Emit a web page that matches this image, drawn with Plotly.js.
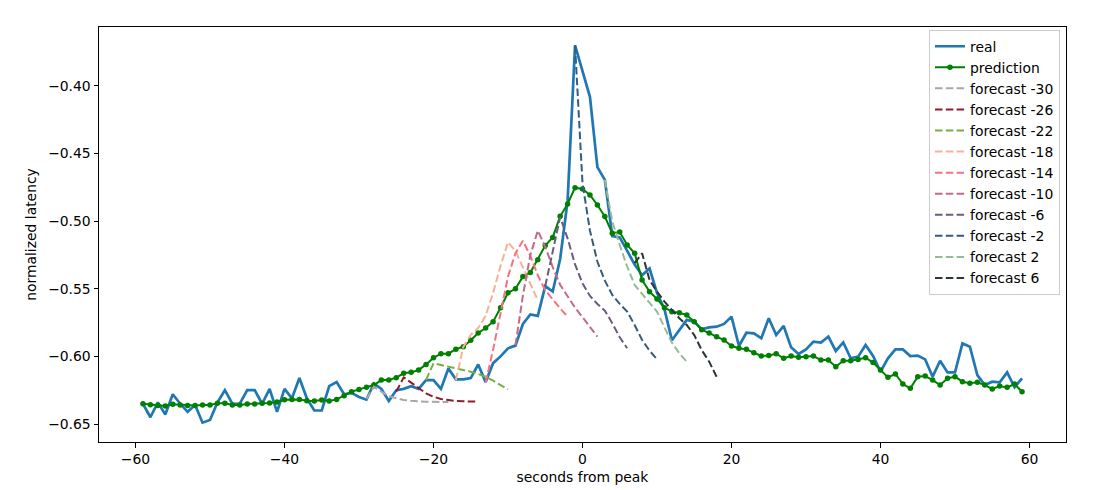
<!DOCTYPE html>
<html>
<head>
<meta charset="utf-8">
<script src="https://cdn.plot.ly/plotly-3.0.1.min.js"></script>
<style>
  html, body { margin: 0; padding: 0; background: #ffffff; }
  #chart { width: 1096px; height: 490px; }
</style>
</head>
<body>
<div id="chart"></div>
<script>
// seconds from peak: first sample of real / prediction series
const firstSecond = -59;

// real normalized latency, seconds -59 .. 59
const realValues = [
  -0.635, -0.645, -0.634, -0.643, -0.628, -0.635, -0.641, -0.636, -0.649, -0.647,
  -0.634, -0.625, -0.635, -0.635, -0.625, -0.625, -0.635, -0.624, -0.641, -0.624,
  -0.631, -0.616, -0.631, -0.640, -0.640, -0.622, -0.619, -0.628, -0.627, -0.630,
  -0.632, -0.620, -0.624, -0.633, -0.625, -0.624, -0.622, -0.624, -0.6175, -0.6175,
  -0.624, -0.609, -0.617, -0.617, -0.616, -0.606, -0.619, -0.605, -0.600, -0.594,
  -0.592, -0.576, -0.569, -0.570, -0.548, -0.552, -0.528, -0.485, -0.370, -0.389,
  -0.408, -0.460, -0.4695, -0.511, -0.512, -0.522, -0.532, -0.540, -0.535, -0.553,
  -0.565, -0.588, -0.5805, -0.573, -0.5743, -0.580, -0.5785, -0.578, -0.576, -0.5706,
  -0.5923, -0.5825, -0.583, -0.5866, -0.5718, -0.5842, -0.5775, -0.5933, -0.5982, -0.5948,
  -0.5891, -0.5898, -0.5854, -0.596, -0.5896, -0.6014, -0.6002, -0.5916, -0.5997, -0.6113,
  -0.6014, -0.5948, -0.5948, -0.5997, -0.5994, -0.6022, -0.615, -0.6032, -0.6118, -0.6118,
  -0.5904, -0.5928, -0.6138, -0.6212, -0.6187, -0.6192, -0.6118, -0.6229, -0.6162
];

// model prediction, seconds -59 .. 59
const predictionValues = [
  -0.635, -0.6357, -0.6364, -0.6367, -0.6354, -0.6359, -0.6364, -0.6364, -0.6359, -0.6359,
  -0.6347, -0.6347, -0.636, -0.6359, -0.6352, -0.6352, -0.6347, -0.6345, -0.6337, -0.632,
  -0.6318, -0.6318, -0.6328, -0.633, -0.6322, -0.633, -0.6318, -0.6291, -0.6261, -0.6244,
  -0.6229, -0.6212, -0.6175, -0.6175, -0.6157, -0.6125, -0.6118, -0.6101, -0.6059, -0.601,
  -0.598, -0.598, -0.5947, -0.5928, -0.588, -0.5827, -0.579, -0.5743, -0.564, -0.553,
  -0.550, -0.541, -0.538, -0.5285, -0.518, -0.512, -0.4964, -0.4873, -0.4752, -0.4762,
  -0.4806, -0.488, -0.4966, -0.509, -0.508, -0.5176, -0.5237, -0.5435, -0.5521, -0.5575,
  -0.564, -0.5669, -0.5677, -0.5694, -0.5743, -0.5803, -0.5827, -0.5854, -0.5879, -0.5923,
  -0.594, -0.5948, -0.5973, -0.5997, -0.5993, -0.598, -0.6014, -0.5997, -0.6007, -0.6002,
  -0.5997, -0.6027, -0.6027, -0.6076, -0.6032, -0.6032, -0.6022, -0.601, -0.6046, -0.610,
  -0.6155, -0.613, -0.6204, -0.6236, -0.615, -0.6145, -0.6175, -0.6212, -0.6162, -0.615,
  -0.6187, -0.6199, -0.6192, -0.6212, -0.6241, -0.6219, -0.6229, -0.6204, -0.6261
];

// forecast issue times (seconds from peak); each forecast covers the 12 following seconds
const forecastTimes = [-30, -26, -22, -18, -14, -10, -6, -2, 2, 6];
const forecastColors = ['#A8A7A7', '#8C1C2E', '#76B041', '#F8B195', '#F67280',
                        '#C06C84', '#6C5B7B', '#355C7D', '#99B898', '#2A363B'];

const forecastM30 = [-0.6315, -0.6224, -0.626, -0.6293, -0.631, -0.6322, -0.6328, -0.6333, -0.6335, -0.6336, -0.6337, -0.6337];
const forecastM26 = [-0.626, -0.6155, -0.6194, -0.6236, -0.6273, -0.6298, -0.6315, -0.6322, -0.633, -0.6332, -0.6335, -0.6335];
const forecastM22 = [-0.6175, -0.6051, -0.6064, -0.6076, -0.6088, -0.6101, -0.6113, -0.613, -0.615, -0.618, -0.6212, -0.6244];
const forecastM18 = [-0.6175, -0.593, -0.584, -0.579, -0.570, -0.553, -0.533, -0.5155, -0.522, -0.534, -0.546, -0.5585];
const forecastM14 = [-0.6194, -0.595, -0.568, -0.541, -0.5237, -0.5144, -0.5257, -0.540, -0.551, -0.558, -0.5645, -0.5706];
const forecastM10 = [-0.5916, -0.555, -0.525, -0.507, -0.519, -0.534, -0.547, -0.556, -0.564, -0.571, -0.578, -0.5854];
const forecastM6  = [-0.548, -0.522, -0.497, -0.5127, -0.532, -0.546, -0.5553, -0.5612, -0.5662, -0.5755, -0.5859, -0.594];
const forecastM2  = [-0.370, -0.472, -0.507, -0.530, -0.544, -0.5546, -0.5612, -0.5669, -0.5768, -0.5879, -0.5958, -0.6022];
const forecastP2  = [-0.4695, -0.5003, -0.5176, -0.5336, -0.5472, -0.5538, -0.5607, -0.5669, -0.5785, -0.5898, -0.5978, -0.6039];
const forecastP6  = [-0.531, -0.5237, -0.5435, -0.5521, -0.5595, -0.5657, -0.5718, -0.5768, -0.5842, -0.5953, -0.6039, -0.615];
const forecastValues = [forecastM30, forecastM26, forecastM22, forecastM18, forecastM14,
                        forecastM10, forecastM6, forecastM2, forecastP2, forecastP6];

const xTicks = [-60, -40, -20, 0, 20, 40, 60];
const yTicks = [-0.65, -0.60, -0.55, -0.50, -0.45, -0.40];

const seconds = realValues.map((_, i) => firstSecond + i);

const traces = [];
traces.push({
  x: seconds, y: realValues, name: 'real', type: 'scatter', mode: 'lines',
  line: { color: '#1f77b4', width: 2.7 }
});
traces.push({
  x: seconds, y: predictionValues, name: 'prediction', type: 'scatter', mode: 'lines+markers',
  line: { color: '#008000', width: 2 },
  marker: { color: '#008000', size: 5.5 }
});
forecastTimes.forEach((t, k) => {
  const vals = forecastValues[k];
  traces.push({
    x: vals.map((_, i) => t + 1 + i), y: vals,
    name: 'forecast ' + t, type: 'scatter', mode: 'lines',
    line: { color: forecastColors[k], width: 2, dash: '7.5px,3.3px' }
  });
});

const font = { family: 'DejaVu Sans, sans-serif', size: 13.9, color: '#000000' };

const layout = {
  width: 1096, height: 490,
  margin: { l: 99, r: 30, t: 27, b: 48, pad: 0 },
  paper_bgcolor: '#ffffff', plot_bgcolor: '#ffffff',
  font: font,
  showlegend: true,
  xaxis: {
    range: [-64.9, 64.9],
    tickmode: 'array', tickvals: xTicks,
    ticks: 'outside', ticklen: 4.5, tickwidth: 1, tickcolor: '#000',
    showline: true, mirror: true, linecolor: '#000', linewidth: 1,
    showgrid: false, zeroline: false,
    tickfont: font,
    title: { text: 'seconds from peak', font: font, standoff: 6 }
  },
  yaxis: {
    range: [-0.6633, -0.3564],
    tickmode: 'array', tickvals: yTicks, tickformat: '.2f',
    ticks: 'outside', ticklen: 4.5, tickwidth: 1, tickcolor: '#000',
    showline: true, mirror: true, linecolor: '#000', linewidth: 1,
    showgrid: false, zeroline: false,
    tickfont: font,
    title: { text: 'normalized latency', font: font, standoff: 8 }
  },
  legend: {
    x: 0.9938, xanchor: 'right', y: 0.9935, yanchor: 'top',
    bgcolor: 'rgba(255,255,255,0.85)', bordercolor: '#cccccc', borderwidth: 1,
    font: font, tracegroupgap: 0, itemwidth: 30
  }
};

Plotly.newPlot('chart', traces, layout, { displayModeBar: false, staticPlot: true });
</script>
</body>
</html>
